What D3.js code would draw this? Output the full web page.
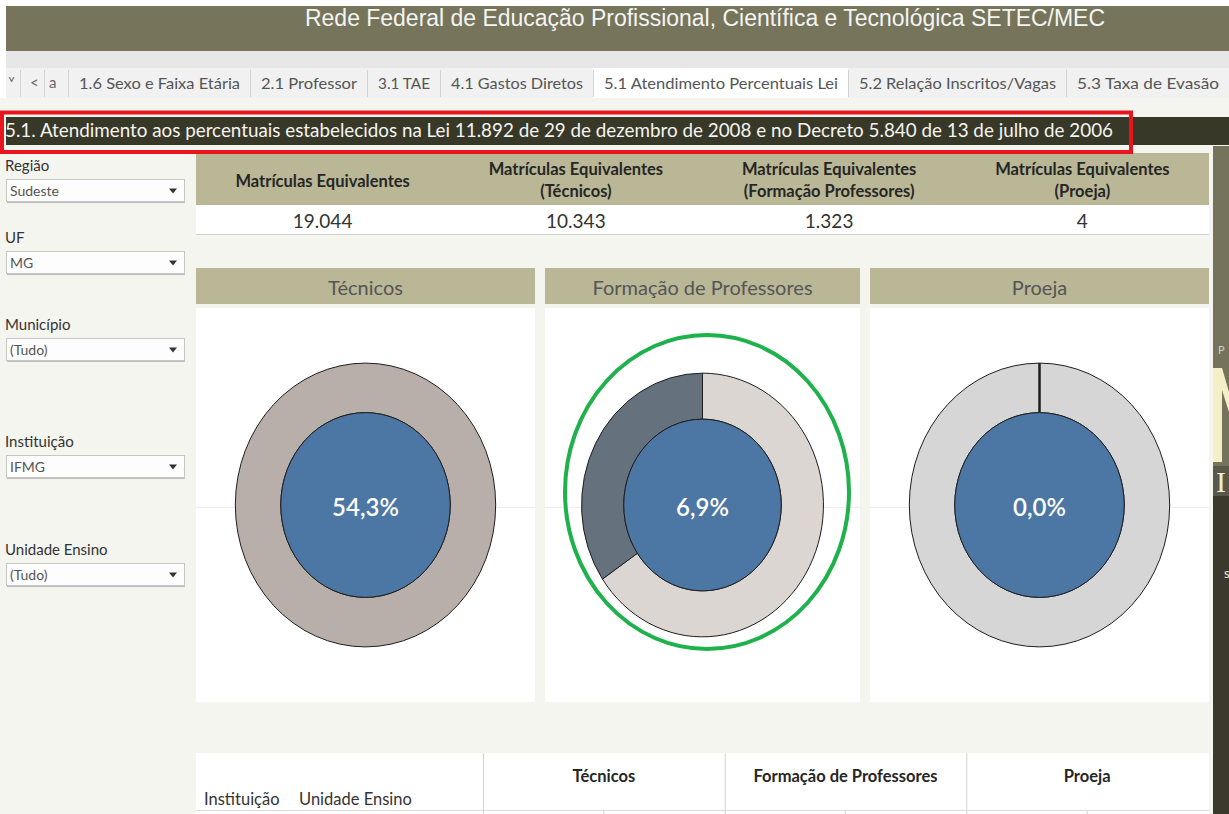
<!DOCTYPE html>
<html>
<head>
<meta charset="utf-8">
<script src="https://cdn.jsdelivr.net/npm/d3@7"></script>
<style>
  body { margin: 0; background: #fff; }
  svg { display: block; font-family: Lato, "Open Sans", sans-serif; }
</style>
</head>
<body>
<div id="dash"></div>
<script>
// ---- values ----
const pageTitle = "Rede Federal de Educação Profissional, Científica e Tecnológica SETEC/MEC";
const tabLabels = ["1.6 Sexo e Faixa Etária", "2.1 Professor", "3.1 TAE", "4.1 Gastos Diretos",
    "5.1 Atendimento Percentuais Lei", "5.2 Relação Inscritos/Vagas", "5.3 Taxa de Evasão"];
const activeTab = "5.1 Atendimento Percentuais Lei";
const sectionTitle = "5.1. Atendimento aos percentuais estabelecidos na Lei 11.892 de 29 de dezembro de 2008 e no Decreto 5.840 de 13 de julho de 2006";

const filterLabels = ["Região", "UF", "Município", "Instituição", "Unidade Ensino"];
const filterValues = ["Sudeste", "MG", "(Tudo)", "IFMG", "(Tudo)"];

const kpiLabels = [["Matrículas Equivalentes"],
    ["Matrículas Equivalentes", "(Técnicos)"],
    ["Matrículas Equivalentes", "(Formação Professores)"],
    ["Matrículas Equivalentes", "(Proeja)"]];
const kpiValues = [19044, 10343, 1323, 4];

const categories = ["Técnicos", "Formação de Professores", "Proeja"];
const percentValues = [54.3, 6.9, 0.0];
const legalTargets = [50, 20, 10];      // % exigido pela Lei 11.892
const tableDims = ["Instituição", "Unidade Ensino"];

// ---- layout / styles ----
const W = 1229, H = 814;
const tabEdges = [68, 250, 367, 440, 593, 848, 1066, 1229];
const filterY = [166, 238, 325, 442, 550];
const panelX = [[196, 535], [545, 860], [870, 1209]];
const colors = {
    header: "#76755c", olive: "#b9b795", cream: "#f5f5ef", dark: "#383829",
    center: "#4c76a3", met: "#b8afaa", done: "#65727d",
    rest: ["#b8afaa", "#dcd6d3", "#d6d6d6"]
};

const ptBR = d3.formatLocale({decimal: ",", thousands: ".", grouping: [3], currency: ["R$ ", ""]});
const fmtInt = ptBR.format(",d");
const fmtPct = ptBR.format(".1f");

let svg = d3.select("#dash").append("svg")
    .attr("width", W)
    .attr("height", H);

// page background
svg.append("rect").attr("width", W).attr("height", H).attr("fill", "#fff");
svg.append("rect").attr("y", 98).attr("width", W).attr("height", H - 98).attr("fill", colors.cream);

// top banner
svg.append("rect").attr("x", 6).attr("y", 6).attr("width", W - 6).attr("height", 45).attr("fill", colors.header);
svg.append("text")
    .attr("x", 305).attr("y", 26)
    .attr("textLength", 800)
    .attr("lengthAdjust", "spacingAndGlyphs")
    .style("font-family", "'Liberation Sans', Arial, sans-serif")
    .style("font-size", "23px")
    .attr("fill", "#f4f4f2")
    .text(pageTitle);

// tab strip
svg.append("rect").attr("x", 6).attr("y", 51).attr("width", W - 6).attr("height", 17).attr("fill", "#e7e7e7");
svg.append("rect").attr("x", 6).attr("y", 68).attr("width", W - 6).attr("height", 30).attr("fill", "#f1f1f1");

let tabs = svg.append("g").attr("id", "tabs");
tabs.selectAll("rect.tab")
    .data(tabLabels)
    .join("rect")
    .attr("class", "tab")
    .attr("x", (d, i) => tabEdges[i])
    .attr("y", 68)
    .attr("width", (d, i) => tabEdges[i + 1] - tabEdges[i])
    .attr("height", 30)
    .attr("fill", d => d === activeTab ? "#fff" : "#f1f1f1");
tabs.selectAll("line")
    .data([20, 44].concat(tabEdges))
    .join("line")
    .attr("x1", d => d + 0.5).attr("x2", d => d + 0.5)
    .attr("y1", 70).attr("y2", 97)
    .attr("stroke", "#d3d3d3");
tabs.selectAll("text.tab")
    .data(tabLabels)
    .join("text")
    .attr("class", "tab")
    .attr("x", (d, i) => tabEdges[i] + 11)
    .attr("y", 83)
    .attr("dy", "0.35em")
    .attr("textLength", (d, i) => tabEdges[i + 1] - tabEdges[i] - 21)
    .attr("lengthAdjust", "spacingAndGlyphs")
    .style("font-size", "16px")
    .attr("fill", "#555")
    .text(d => d);
tabs.selectAll("text.nav")
    .data([[8, "˅"], [30, "<"], [49, "a"]])
    .join("text")
    .attr("class", "nav")
    .attr("x", d => d[0]).attr("y", 83).attr("dy", "0.35em")
    .style("font-size", "15px")
    .attr("fill", "#666")
    .text(d => d[1]);

// section title bar
svg.append("rect").attr("x", 6).attr("y", 117).attr("width", W - 6).attr("height", 28).attr("fill", colors.dark);
svg.append("text")
    .attr("x", 5).attr("y", 131).attr("dy", "0.35em")
    .attr("textLength", 1108)
    .attr("lengthAdjust", "spacingAndGlyphs")
    .style("font-size", "18.5px")
    .attr("fill", "#f4f4f0")
    .text(sectionTitle);

// filters (left column)
let filters = svg.append("g").attr("id", "filters")
    .selectAll("g")
    .data(filterLabels)
    .join("g")
    .attr("transform", (d, i) => "translate(0," + filterY[i] + ")");
filters.append("text")
    .attr("x", 5).attr("dy", "0.35em")
    .style("font-size", "15px")
    .attr("fill", "#333")
    .text(d => d);
filters.append("rect")
    .attr("x", 6.5).attr("y", 13.5).attr("width", 178).attr("height", 22)
    .attr("fill", "#fdfdfd")
    .attr("stroke", "#c6c6c6");
filters.append("line")
    .attr("x1", 7).attr("x2", 185).attr("y1", 36.5).attr("y2", 36.5)
    .attr("stroke", "#bdbdbd");
filters.append("text")
    .attr("x", 10).attr("y", 25).attr("dy", "0.35em")
    .style("font-size", "14px")
    .attr("fill", "#555")
    .text((d, i) => filterValues[i]);
filters.append("path")
    .attr("d", "M-4,-2.5L4,-2.5L0,2.5Z")
    .attr("transform", "translate(173,25)")
    .attr("fill", "#333");

// KPI table
let kx = d3.scaleBand().domain(d3.range(kpiValues.length)).range([196, 1209]);
svg.append("rect").attr("x", 196).attr("y", 153).attr("width", 1013).attr("height", 52).attr("fill", colors.olive);
svg.append("rect").attr("x", 196).attr("y", 205).attr("width", 1013).attr("height", 29).attr("fill", "#fff");
svg.append("line").attr("x1", 196).attr("x2", 1209).attr("y1", 234.5).attr("y2", 234.5).attr("stroke", "#d0d0d0");

let kpi = svg.append("g").attr("id", "kpi")
    .selectAll("g")
    .data(kpiLabels)
    .join("g")
    .attr("transform", (d, i) => "translate(" + (kx(i) + kx.bandwidth() / 2) + ",0)");
kpi.each(function(lines) {
    let y0 = lines.length === 1 ? 181 : 169;
    d3.select(this).selectAll("text.h")
        .data(lines)
        .join("text")
        .attr("class", "h")
        .attr("y", (d, j) => y0 + j * 22)
        .attr("dy", "0.35em")
        .attr("text-anchor", "middle")
        .style("font-size", "16.5px")
        .style("font-weight", "bold")
        .attr("fill", "#262626")
        .text(d => d);
});
kpi.append("text")
    .attr("y", 221).attr("dy", "0.35em")
    .attr("text-anchor", "middle")
    .style("font-size", "19px")
    .attr("fill", "#333")
    .text((d, i) => fmtInt(kpiValues[i]));

// donut panels
let pie = d3.pie().sort(null).value(d => d.value);
let cy = 505, squash = 1.09;

categories.forEach((cat, i) => {
    let x0 = panelX[i][0], x1 = panelX[i][1];
    let w = x1 - x0, cx = (x0 + x1) / 2;
    let outer = w * 0.384, inner = w * 0.25;

    svg.append("rect").attr("x", x0).attr("y", 268).attr("width", w).attr("height", 36).attr("fill", colors.olive);
    svg.append("text")
        .attr("x", cx).attr("y", 288).attr("dy", "0.35em")
        .attr("text-anchor", "middle")
        .style("font-size", "20px")
        .attr("fill", "#555")
        .text(cat);
    svg.append("rect").attr("x", x0).attr("y", 308).attr("width", w).attr("height", 394).attr("fill", "#fff");
    svg.append("line").attr("x1", x0).attr("x2", x1).attr("y1", 507.5).attr("y2", 507.5).attr("stroke", "#efefef");

    // ring = share of the legal target reached
    let done = Math.min(percentValues[i], legalTargets[i]);
    let slices = pie([{key: "rest", value: legalTargets[i] - done}, {key: "done", value: done}])
        .filter(d => d.data.key === "done" || d.data.value > 0);
    let arc = d3.arc().innerRadius(inner).outerRadius(outer);

    let g = svg.append("g").attr("transform", "translate(" + cx + "," + cy + ") scale(1," + squash + ")");
    g.selectAll("path")
        .data(slices)
        .join("path")
        .attr("d", arc)
        .attr("fill", d => d.data.key === "rest" ? colors.rest[i]
            : (percentValues[i] >= legalTargets[i] ? colors.met : colors.done))
        .attr("stroke", "#1e1e1e")
        .attr("stroke-width", d => d.value === 0 ? 2.5 : 1)
        .attr("vector-effect", "non-scaling-stroke");
    g.append("circle")
        .attr("r", inner)
        .attr("fill", colors.center)
        .attr("stroke", "#1e1e1e")
        .attr("vector-effect", "non-scaling-stroke");

    svg.append("text")
        .attr("x", cx).attr("y", cy + 3).attr("dy", "0.35em")
        .attr("text-anchor", "middle")
        .style("font-size", "24px")
        .style("font-weight", "600")
        .attr("fill", "#fff")
        .text(fmtPct(percentValues[i]) + "%");
});

// green highlight round the teacher-training donut
svg.append("ellipse")
    .attr("cx", 707).attr("cy", 492).attr("rx", 142).attr("ry", 157)
    .attr("fill", "none")
    .attr("stroke", "#1fb14b")
    .attr("stroke-width", 4);

// red highlight round the section title
svg.append("rect")
    .attr("x", 2).attr("y", 112.5).attr("width", 1129).attr("height", 39.5)
    .attr("fill", "none")
    .attr("stroke", "#e8151d")
    .attr("stroke-width", 4);

// bottom detail table (header only visible)
let tx = d3.scaleBand().domain(categories).range([483, 1208]);
svg.append("rect").attr("x", 196).attr("y", 753).attr("width", 1013).attr("height", H - 753).attr("fill", "#fff");
svg.append("line").attr("x1", 196).attr("x2", 1209).attr("y1", 810.5).attr("y2", 810.5).attr("stroke", "#dcdcdc");
let tcol = svg.append("g").selectAll("g")
    .data(categories)
    .join("g")
    .attr("transform", d => "translate(" + tx(d) + ",0)");
tcol.append("line")
    .attr("x1", 0.5).attr("x2", 0.5).attr("y1", 753).attr("y2", H)
    .attr("stroke", "#d4d4d4");
tcol.append("line")
    .attr("x1", tx.bandwidth() / 2).attr("x2", tx.bandwidth() / 2).attr("y1", 811).attr("y2", H)
    .attr("stroke", "#d4d4d4");
tcol.append("text")
    .attr("x", tx.bandwidth() / 2).attr("y", 776).attr("dy", "0.35em")
    .attr("text-anchor", "middle")
    .style("font-size", "16.5px")
    .style("font-weight", "bold")
    .attr("fill", "#262626")
    .text(d => d);
svg.append("g").selectAll("text")
    .data(tableDims)
    .join("text")
    .attr("x", (d, i) => [204, 299][i])
    .attr("y", 799).attr("dy", "0.35em")
    .style("font-size", "16.5px")
    .attr("fill", "#333")
    .text(d => d);

// cropped logo panel at the right edge
let logo = svg.append("g").attr("id", "logo");
logo.append("rect").attr("x", 1213).attr("y", 146).attr("width", 16).attr("height", 320).attr("fill", "#75735b");
logo.append("rect").attr("x", 1213).attr("y", 466).attr("width", 16).attr("height", 30).attr("fill", "#58574a");
logo.append("rect").attr("x", 1213).attr("y", 496).attr("width", 16).attr("height", H - 496).attr("fill", "#3a392c");
logo.append("path")
    .attr("d", "M1213,368L1222,368L1229,392L1229,412L1222,390L1222,462L1213,462Z")
    .attr("fill", "#f3f0c8");
logo.append("text").attr("x", 1218).attr("y", 350).attr("dy", "0.35em")
    .style("font-size", "11px").attr("fill", "#cfcfbf").text("P");
logo.append("text").attr("x", 1216).attr("y", 492)
    .style("font-family", "'Liberation Serif', serif").style("font-size", "30px")
    .attr("fill", "#ecebd6").text("I");
logo.append("text").attr("x", 1224).attr("y", 573).attr("dy", "0.35em")
    .style("font-size", "13px").attr("fill", "#e8e8e0").text("s");
</script>
</body>
</html>
